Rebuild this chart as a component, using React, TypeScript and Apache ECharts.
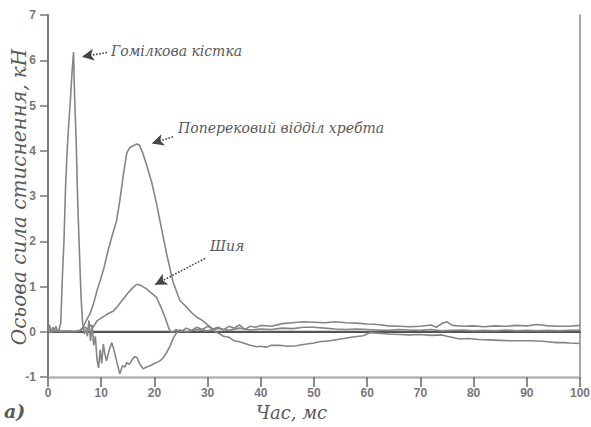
import React, { useEffect, useRef } from "react";
import * as echarts from "echarts";

const xTicks = [0, 10, 20, 30, 40, 50, 60, 70, 80, 90, 100];
const yTicks = [-1, 0, 1, 2, 3, 4, 5, 6, 7];

// Гомілкова кістка (tibia)
const tibia: [number, number][] = [
  [0, 0.02], [0.3, 0.15], [0.6, -0.02], [0.9, 0.1], [1.2, 0.03], [1.5, 0.12], [1.8, 0.0], [2.1, 0.05],
  [2.4, 0.2], [2.7, 1.2], [3.0, 2.0], [3.3, 3.2], [3.6, 4.0], [3.9, 4.6], [4.2, 5.1], [4.5, 5.7],
  [4.8, 6.18], [5.0, 5.2], [5.3, 4.2], [5.6, 2.8], [5.9, 1.8], [6.2, 0.8], [6.5, 0.2], [6.8, -0.05],
  [7.1, 0.05], [7.4, -0.1], [7.7, 0.25], [8.0, -0.2], [8.3, 0.15], [8.6, -0.3], [8.9, -0.1], [9.2, -0.6],
  [9.5, -0.8], [9.8, -0.4], [10.1, -0.7], [10.4, -0.27], [10.7, -0.5], [11.0, -0.64], [11.5, -0.4],
  [12.0, -0.24], [12.5, -0.45], [13.0, -0.7], [13.5, -0.93], [14.0, -0.75], [14.5, -0.78], [14.8, -0.68],
  [15.3, -0.72], [15.8, -0.62], [16.3, -0.55], [16.7, -0.57], [17.2, -0.7], [17.9, -0.82], [18.5, -0.78],
  [19.2, -0.75], [20.0, -0.7], [20.8, -0.66], [21.5, -0.6], [22.3, -0.46], [23.0, -0.3], [23.6, -0.13],
  [24.2, -0.02], [24.8, 0.04], [26, 0.0], [28, 0.05], [30, 0.02], [32, 0.07], [34, 0.03], [36, 0.08],
  [38, 0.04], [40, 0.06], [42, 0.05], [44, 0.08], [46, 0.07], [48, 0.1], [50, 0.1], [52, 0.08],
  [54, 0.06], [56, 0.05], [58, 0.06], [60, 0.05], [62, 0.04], [64, 0.03], [66, 0.05], [68, 0.04],
  [70, 0.03], [72, 0.05], [74, 0.02], [76, 0.03], [78, 0.04], [80, 0.02], [82, 0.03], [84, 0.02],
  [86, 0.04], [88, 0.02], [90, 0.03], [92, 0.02], [94, 0.03], [96, 0.02], [98, 0.03], [100, 0.03],
];

// Поперековий відділ хребта (lumbar spine)
const spine: [number, number][] = [
  [0, 0.05], [2, 0.0], [4, 0.02], [5, 0.0], [6, 0.03], [6.6, 0.1], [7.2, 0.25], [7.9, 0.4], [8.5, 0.6],
  [9.2, 0.9], [9.8, 1.13], [10.5, 1.4], [11.2, 1.75], [12, 2.1], [12.9, 2.46], [13.5, 2.9], [14.2, 3.5],
  [14.8, 3.95], [15.3, 4.06], [15.8, 4.1], [16.2, 4.12], [16.7, 4.15], [17.2, 4.12], [17.8, 3.95], [18.5, 3.7],
  [19.5, 3.3], [20.4, 2.83], [21.3, 2.3], [22.3, 1.72], [23.5, 1.1], [24.8, 0.69], [26, 0.55],
  [27, 0.42], [28, 0.32], [29, 0.25], [30, 0.15], [30.5, 0.1], [31.5, 0.0], [32.3, -0.05], [33, -0.1],
  [34, -0.12], [35, -0.2], [36, -0.22], [37.3, -0.27], [38, -0.3], [39.2, -0.33], [40, -0.32],
  [41, -0.34], [42, -0.3], [43.6, -0.3], [45, -0.32], [46.7, -0.31], [48, -0.28], [50, -0.25],
  [51, -0.22], [53, -0.2], [55, -0.16], [57, -0.12], [59.2, -0.09], [60.5, -0.02], [62, -0.03],
  [64, -0.05], [66, -0.06], [68, -0.07], [70, -0.06], [72, -0.08], [74, -0.07], [75, -0.1],
  [77.4, -0.16], [79, -0.15], [81, -0.17], [83, -0.18], [85, -0.19], [87, -0.2], [89, -0.2],
  [91, -0.2], [93, -0.21], [95.6, -0.24], [97, -0.24], [98, -0.25], [100, -0.26],
];

// Шия (neck)
const neck: [number, number][] = [
  [0, 0], [2, 0.02], [4, 0.0], [6, 0.02], [7, 0.1], [7.5, 0.05], [8, 0.15], [8.5, 0.1], [9.2, 0.24],
  [10, 0.3], [11, 0.38], [12.3, 0.46], [13, 0.55], [14, 0.7], [15, 0.85], [16, 0.98], [16.7, 1.05],
  [17.5, 1.02], [18.5, 0.95], [19.5, 0.85], [20.4, 0.76], [21.2, 0.55], [22, 0.32], [22.5, 0.15],
  [22.9, 0.02], [23.5, -0.02], [24, 0.05], [25, 0.0], [26, 0.08], [27, 0.03], [28, 0.1], [29, 0.05],
  [30, 0.12], [31, 0.06], [32, 0.1], [33, 0.04], [34, 0.12], [35, 0.08], [36, 0.15], [37, 0.05],
  [38, 0.12], [39, 0.1], [40, 0.14], [42, 0.12], [44, 0.18], [46, 0.2], [48, 0.22], [50, 0.21],
  [52, 0.2], [54, 0.22], [56, 0.2], [58, 0.19], [60, 0.17], [62, 0.16], [64, 0.13], [66, 0.12],
  [68, 0.11], [70, 0.12], [72, 0.15], [73, 0.1], [74, 0.18], [75, 0.22], [76, 0.14], [78, 0.12],
  [80, 0.13], [82, 0.11], [84, 0.13], [86, 0.12], [88, 0.14], [90, 0.13], [92, 0.16], [94, 0.13],
  [96, 0.12], [98, 0.12], [100, 0.14],
];

const zeroLine: [number, number][] = [[0, 0], [100, 0]];

// Annotation arrows: [from, to] in data coordinates
const arrowTibia = [[11.1, 6.17], [6.4, 6.08]];
const arrowSpine = [[23.5, 4.31], [19.5, 4.16]];
const arrowNeck = [[29.5, 1.62], [20.1, 1.04]];

const labelTibia = "Гомілкова кістка";
const labelSpine = "Поперековий відділ хребта";
const labelNeck = "Шия";
const xTitle = "Час, мс";
const yTitle = "Осьова сила стиснення, кН";
const panelLabel = "а)";

const curveColor = "#858585";
const textColor = "#5a5a5a";
const serif = "'DejaVu Serif', serif";

export default function App() {
  const ref = useRef<HTMLDivElement>(null);
  useEffect(() => {
    if (!ref.current) return;
    const chart = echarts.init(ref.current, undefined, { renderer: "svg" });
    const arrow = (a: number[][]) => [
      { coord: a[0], symbol: "none" },
      { coord: a[1], symbol: "arrow", symbolSize: [9, 12] },
    ];
    const curve = (data: [number, number][], extra: any = {}) => ({
      type: "line",
      data,
      showSymbol: false,
      symbol: "none",
      lineStyle: { color: curveColor, width: 1.6 },
      z: 3,
      ...extra,
    });
    chart.setOption({
      animation: false,
      backgroundColor: "#fff",
      grid: { left: 48, right: 11, top: 15, bottom: 50, containLabel: false, outerBoundsMode: "none" },
      xAxis: [
        {
          type: "value",
          min: 0,
          max: 100,
          interval: 10,
          axisLine: { onZero: false, lineStyle: { color: "#b5b5b5", width: 2.5 } },
          axisTick: { show: true, inside: false, length: 10, lineStyle: { color: "#666", width: 1.5 } },
          axisLabel: {
            margin: 10,
            color: "#777",
            fontSize: 12,
            fontWeight: "bold",
            fontFamily: "'Liberation Sans', sans-serif",
            formatter: (v: number) => (xTicks.includes(v) ? String(v) : ""),
          },
          splitLine: { show: false },
        },
        {
          type: "value",
          position: "top",
          min: 0,
          max: 100,
          axisLine: { show: true, lineStyle: { color: "#4a4a4a", width: 2 } },
          axisTick: { show: false },
          axisLabel: { show: false },
          splitLine: { show: false },
        },
      ],
      yAxis: [
        {
          type: "value",
          min: -1,
          max: 7,
          interval: 1,
          axisLine: { show: true, onZero: false, lineStyle: { color: "#7a7a7a", width: 2 } },
          axisTick: { show: true, length: 8, lineStyle: { color: "#777", width: 1.5 } },
          axisLabel: {
            margin: 12,
            color: "#777",
            fontSize: 12,
            fontWeight: "bold",
            fontFamily: "'Liberation Sans', sans-serif",
            formatter: (v: number) => (yTicks.includes(v) ? String(v) : ""),
          },
          splitLine: { show: false },
        },
        {
          type: "value",
          position: "right",
          min: -1,
          max: 7,
          axisLine: { show: true, onZero: false, lineStyle: { color: "#888", width: 1.5 } },
          axisTick: { show: false },
          axisLabel: { show: false },
          splitLine: { show: false },
        },
      ],
      series: [
        {
          type: "line",
          data: zeroLine,
          symbol: "none",
          lineStyle: { color: "#555", width: 2.2 },
          z: 2,
        },
        curve(spine),
        curve(neck),
        curve(tibia, {
          markLine: {
            silent: true,
            symbol: ["none", "arrow"],
            lineStyle: { color: "#444", width: 1.6, type: "dotted" },
            label: { show: false },
            data: [arrow(arrowTibia), arrow(arrowSpine), arrow(arrowNeck)],
          },
        }),
      ],
      graphic: [
        {
          type: "text",
          left: 111,
          top: 44,
          style: { text: labelTibia, font: `italic 14px ${serif}`, fill: textColor },
        },
        {
          type: "text",
          left: 178,
          top: 121,
          style: { text: labelSpine, font: `italic 14px ${serif}`, fill: textColor },
        },
        {
          type: "text",
          left: 210,
          top: 239,
          style: { text: labelNeck, font: `italic 14px ${serif}`, fill: textColor },
        },
        {
          type: "text",
          x: 19,
          y: 197,
          rotation: Math.PI / 2,
          style: {
            text: yTitle,
            font: `italic 20px ${serif}`,
            fill: textColor,
            align: "center",
            verticalAlign: "middle",
          },
        },
        {
          type: "text",
          left: 256,
          top: 403,
          style: { text: xTitle, font: `italic 18px ${serif}`, fill: textColor },
        },
        {
          type: "text",
          left: 4,
          top: 401,
          style: { text: panelLabel, font: `italic bold 19px ${serif}`, fill: textColor },
        },
      ],
    });
    return () => chart.dispose();
  }, []);
  return <div ref={ref} style={{ width: 591, height: 427, position: "absolute", left: 0, top: 0 }} />;
}
